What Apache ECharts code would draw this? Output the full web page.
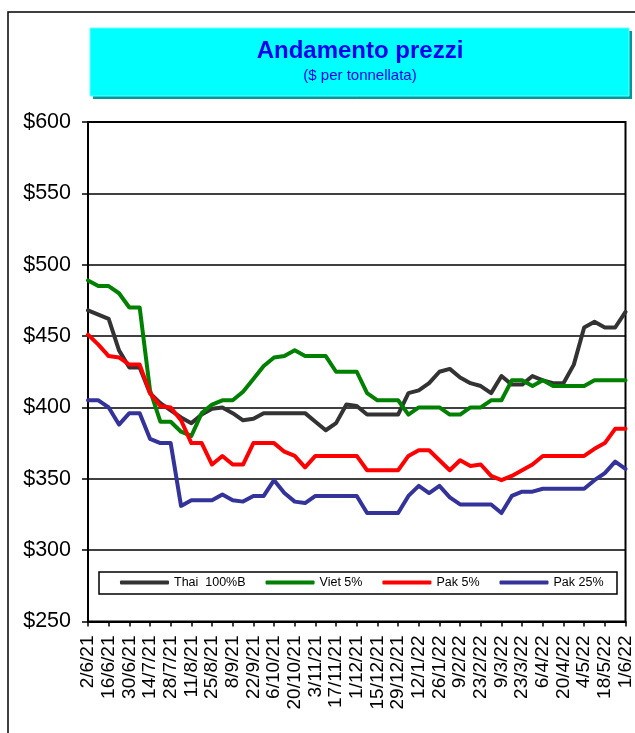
<!DOCTYPE html>
<html>
<head>
<meta charset="utf-8">
<script src="https://cdn.jsdelivr.net/npm/echarts@6/dist/echarts.min.js"></script>
<style>
  html, body { margin: 0; padding: 0; background: #fff; }
  #chart { width: 635px; height: 733px; }
</style>
</head>
<body>
<div id="chart"></div>
<script>
// weekly dates, one label every two weeks
const dates = [
  '2/6/21','9/6/21','16/6/21','23/6/21','30/6/21','7/7/21','14/7/21','21/7/21','28/7/21',
  '4/8/21','11/8/21','18/8/21','25/8/21','1/9/21','8/9/21','15/9/21','22/9/21','29/9/21',
  '6/10/21','13/10/21','20/10/21','27/10/21','3/11/21','10/11/21','17/11/21','24/11/21',
  '1/12/21','8/12/21','15/12/21','22/12/21','29/12/21','5/1/22','12/1/22','19/1/22','26/1/22',
  '2/2/22','9/2/22','16/2/22','23/2/22','2/3/22','9/3/22','16/3/22','23/3/22','30/3/22',
  '6/4/22','13/4/22','20/4/22','27/4/22','4/5/22','11/5/22','18/5/22','25/5/22','1/6/22'
];

const thai100B = [
  468, 465, 462, 440, 428, 428, 410, 403, 398, 393, 389, 395, 399, 400, 396, 391, 392, 396,
  396, 396, 396, 396, 390, 384, 389, 402, 401, 395, 395, 395, 395, 410, 412, 417, 425, 427,
  421, 417, 415, 410, 422, 416, 416, 422, 419, 417, 417, 430, 456, 460, 456, 456, 467
];
const viet5 = [
  489, 485, 485, 480, 470, 470, 412, 390, 390, 383, 380, 396, 402, 405, 405, 411, 420, 429,
  435, 436, 440, 436, 436, 436, 425, 425, 425, 410, 405, 405, 405, 395, 400, 400, 400, 395,
  395, 400, 400, 405, 405, 419, 419, 415, 419, 415, 415, 415, 415, 419, 419, 419, 419
];
const pak5 = [
  451, 444, 436, 435, 430, 430, 410, 401, 400, 391, 375, 375, 360, 366, 360, 360, 375, 375,
  375, 369, 366, 358, 366, 366, 366, 366, 366, 356, 356, 356, 356, 366, 370, 370, 363, 356,
  363, 359, 360, 352, 349, 352, 356, 360, 366, 366, 366, 366, 366, 371, 375, 385, 385
];
const pak25 = [
  405, 405, 400, 388, 396, 396, 378, 375, 375, 331, 335, 335, 335, 339, 335, 334, 338, 338,
  349, 340, 334, 333, 338, 338, 338, 338, 338, 326, 326, 326, 326, 338, 345, 340, 345, 337,
  332, 332, 332, 332, 326, 338, 341, 341, 343, 343, 343, 343, 343, 349, 354, 362, 357
];

const seriesNames = ['Thai  100%B', 'Viet 5%', 'Pak 5%', 'Pak 25%'];
const seriesColors = ['#333333', '#008000', '#ff0000', '#333399'];
const seriesData = [thai100B, viet5, pak5, pak25];

const font = '"Liberation Sans", Arial, sans-serif';

let el = document.getElementById('chart');
let myChart = echarts.init(el, null, { renderer: 'canvas' });

let option = {
  animation: false,
  textStyle: { fontFamily: font },
  graphic: [
    // outer frame
    { type: 'rect', z: 0, shape: { x: 8, y: 12, width: 640, height: 740 },
      style: { fill: null, stroke: '#000', lineWidth: 1.5 } },
    // title box with shadow
    { type: 'rect', z: 1, shape: { x: 93, y: 31, width: 539, height: 68 },
      style: { fill: '#009999' } },
    { type: 'rect', z: 2, shape: { x: 90, y: 28, width: 539, height: 68 },
      style: { fill: '#00ffff', stroke: '#66ffff', lineWidth: 1 } },
    { type: 'text', z: 3, x: 360, y: 51,
      style: { text: 'Andamento prezzi', fill: '#0000ee', font: 'bold 24px ' + font,
               textAlign: 'center', textVerticalAlign: 'middle' } },
    { type: 'text', z: 3, x: 360, y: 76,
      style: { text: '($ per tonnellata)', fill: '#0000ee', font: '15px ' + font,
               textAlign: 'center', textVerticalAlign: 'middle' } },
    // legend box
    { type: 'rect', z: 5, shape: { x: 99, y: 572, width: 518, height: 22 },
      style: { fill: '#fff', stroke: '#000', lineWidth: 1.5 } }
  ],
  legend: {
    z: 10,
    left: 120,
    top: 576,
    icon: 'roundRect',
    itemWidth: 49,
    itemHeight: 4,
    itemGap: 20,
    padding: 0,
    textStyle: { fontSize: 12.5, color: '#000', fontFamily: font },
    data: seriesNames
  },
  grid: {
    show: true,
    left: 88,
    top: 122,
    width: 542,
    height: 499.5,
    borderColor: '#000',
    borderWidth: 2,
    backgroundColor: '#fff'
  },
  xAxis: {
    type: 'category',
    data: dates,
    boundaryGap: false,
    axisLine: { lineStyle: { color: '#000', width: 2 } },
    axisTick: { interval: 1, length: 5, lineStyle: { color: '#000', width: 1.5 } },
    axisLabel: { interval: 1, rotate: 90, margin: 14, fontSize: 19, color: '#000', fontFamily: font },
    splitLine: { show: false }
  },
  yAxis: {
    type: 'value',
    min: 250,
    max: 600,
    interval: 50,
    axisLine: { show: true, lineStyle: { color: '#000', width: 2 } },
    axisTick: { show: true, length: 6, lineStyle: { color: '#000', width: 1.5 } },
    axisLabel: { margin: 17, fontSize: 21.5, color: '#000', fontFamily: font,
                 formatter: v => '$' + v },
    splitLine: { lineStyle: { color: '#000', width: 1.5 } }
  },
  series: seriesNames.map((name, i) => ({
    name: name,
    type: 'line',
    data: seriesData[i],
    showSymbol: false,
    symbol: 'none',
    color: seriesColors[i],
    lineStyle: { color: seriesColors[i], width: 4, join: 'round', cap: 'round' },
    z: 2
  }))
};

myChart.setOption(option);
</script>
</body>
</html>
